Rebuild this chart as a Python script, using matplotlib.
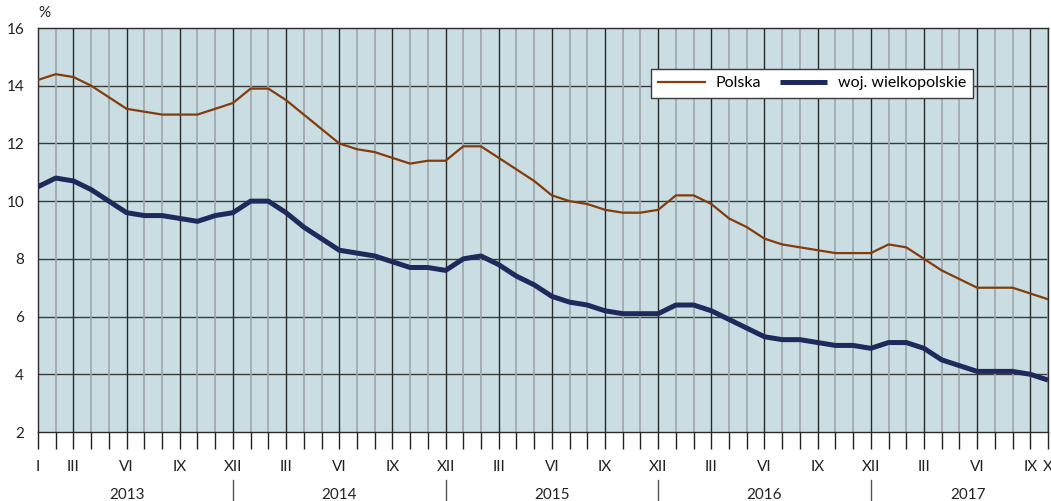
import matplotlib.pyplot as plt
import numpy as np

# -----------------------------
# Data (unemployment rate, %)
# -----------------------------
polska = [
    14.2, 14.4, 14.3, 14.0, 13.6, 13.2, 13.1, 13.0, 13.0, 13.0, 13.2, 13.4,
    13.9, 13.9, 13.5, 13.0, 12.5, 12.0, 11.8, 11.7, 11.5, 11.3, 11.4, 11.4,
    11.9, 11.9, 11.5, 11.1, 10.7, 10.2, 10.0, 9.9, 9.7, 9.6, 9.6, 9.7,
    10.2, 10.2, 9.9, 9.4, 9.1, 8.7, 8.5, 8.4, 8.3, 8.2, 8.2, 8.2,
    8.5, 8.4, 8.0, 7.6, 7.3, 7.0, 7.0, 7.0, 6.8, 6.6,
]
wielkopolskie = [
    10.5, 10.8, 10.7, 10.4, 10.0, 9.6, 9.5, 9.5, 9.4, 9.3, 9.5, 9.6,
    10.0, 10.0, 9.6, 9.1, 8.7, 8.3, 8.2, 8.1, 7.9, 7.7, 7.7, 7.6,
    8.0, 8.1, 7.8, 7.4, 7.1, 6.7, 6.5, 6.4, 6.2, 6.1, 6.1, 6.1,
    6.4, 6.4, 6.2, 5.9, 5.6, 5.3, 5.2, 5.2, 5.1, 5.0, 5.0, 4.9,
    5.1, 5.1, 4.9, 4.5, 4.3, 4.1, 4.1, 4.1, 4.0, 3.8,
]
years = ["2013", "2014", "2015", "2016", "2017"]
months = ["I", "II", "III", "IV", "V", "VI", "VII", "VIII", "IX", "X", "XI", "XII"]
shown_months = ["III", "VI", "IX", "XII"]

# -----------------------------
# Figure
# -----------------------------
plt.rcParams['font.family'] = ['Lato', 'DejaVu Sans']

fig = plt.figure(figsize=(10.51, 5.01), dpi=100)
ax = fig.add_axes([38 / 1051, 1 - 432 / 501, (1048 - 38) / 1051, (432 - 28) / 501])

n = len(polska)
x = np.arange(n)
month_of = [months[i % 12] for i in range(n)]

ax.set_facecolor('#C9DDE3')
ax.set_xlim(0, n - 1)
ax.set_ylim(2, 16)
ax.set_yticks(range(2, 17, 2))

# horizontal grid
for yv in range(4, 16, 2):
    ax.axhline(yv, color='#3a3a3a', lw=1.0, zorder=1)

# vertical grid: dark for labelled months, grey otherwise
for i in range(1, n):
    if month_of[i] in shown_months:
        ax.axvline(i, color='#2a2a2a', lw=1.0, zorder=1)
    else:
        ax.axvline(i, color='#9ea6a9', lw=1.2, zorder=1)

ax.plot(x, polska, color='#843C0C', lw=1.6, label='Polska', zorder=3,
        solid_joinstyle='round')
ax.plot(x, wielkopolskie, color='#1F2A5C', lw=3.6, label='woj. wielkopolskie',
        zorder=4, solid_joinstyle='round', solid_capstyle='butt')

for s in ax.spines.values():
    s.set_color('#2a2a2a')
    s.set_linewidth(1.0)

ax.tick_params(axis='y', length=0, labelsize=11, pad=10, colors='#222222')

# month ticks below axis
labels = []
for i, m in enumerate(month_of):
    labels.append(m if (m in shown_months or i == 0 or i == n - 1) else '')
ax.set_xticks(x)
ax.set_xticklabels(labels)
ax.tick_params(axis='x', length=12, width=1.0, labelsize=11, pad=8,
               colors='#222222')
for i, t in enumerate(ax.xaxis.get_major_ticks()):
    if month_of[i] in shown_months or i == 0 or i == n - 1:
        t.tick1line.set_color('#2a2a2a')
    else:
        t.tick1line.set_color('#b0b0b0')

ax.text(0.0, 1.02, '%', transform=ax.transAxes, fontsize=11, ha='left',
        va='bottom', color='#222222')

# year labels and separators
edges = [-1, 11, 23, 35, 47, n]
for k, yr in enumerate(years):
    c = (edges[k] + edges[k + 1]) / 2
    ax.text(c, -0.155, yr, transform=ax.get_xaxis_transform(), ha='center',
            va='center', fontsize=11, color='#222222')
for e in edges[1:-1]:
    ax.plot([e, e], [-0.12, -0.18], transform=ax.get_xaxis_transform(),
            color='#555555', lw=1.0, clip_on=False)

leg = ax.legend(loc='upper left', bbox_to_anchor=(613 / 1010, 1 - 41 / 404),
                ncol=2, frameon=True, fancybox=False, shadow=False,
                fontsize=11.5, handlelength=2.9, columnspacing=1.2,
                borderpad=0.45, handletextpad=0.7, borderaxespad=0)
leg.get_frame().set_edgecolor('#3a3a3a')
leg.get_frame().set_facecolor('white')
leg.get_frame().set_alpha(1)
leg.get_frame().set_linewidth(1.0)

fig.savefig('out.png', dpi=100)
